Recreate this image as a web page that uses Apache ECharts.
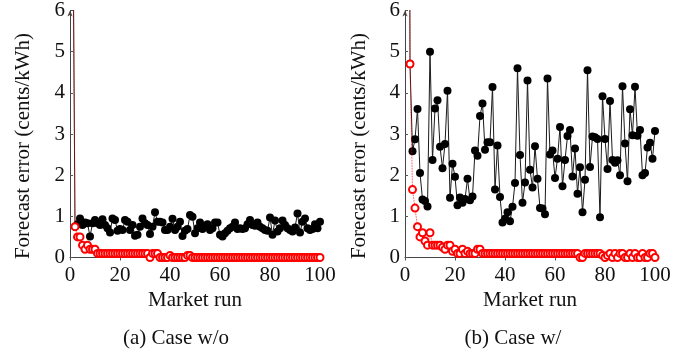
<!DOCTYPE html>
<html>
<head>
<meta charset="utf-8">
<script src="https://cdn.jsdelivr.net/npm/echarts@6/dist/echarts.min.js"></script>
<style>
  html, body { margin: 0; padding: 0; background: #fff; }
  #chart { width: 694px; height: 356px; }
</style>
</head>
<body>
<div id="chart"></div>
<script>
// market runs 1..100 (run 1 is far above the plotted range)
const runs = Array.from({ length: 100 }, (_, i) => i + 1);

// (a) case w/o
const withoutBlack = [
    10, 0.75, 0.81, 0.95, 0.79, 0.85, 0.83, 0.51, 0.83, 0.91,
    0.83, 0.79, 0.93, 0.79, 0.71, 0.61, 0.95, 0.91, 0.65, 0.69,
    0.67, 0.91, 0.87, 0.67, 0.79, 0.53, 0.55, 0.75, 0.95, 0.83,
    0.79, 0.57, 0.75, 1.1, 0.87, 0.87, 0.85, 0.67, 0.67, 0.75,
    0.94, 0.67, 0.75, 0.87, 0.52, 0.65, 0.69, 1.03, 0.99, 0.59,
    0.71, 0.85, 0.69, 0.77, 0.81, 0.67, 0.71, 0.85, 0.85, 0.55,
    0.51, 0.59, 0.65, 0.71, 0.75, 0.85, 0.69, 0.71, 0.69, 0.71,
    0.81, 0.91, 0.79, 0.77, 0.85, 0.75, 0.71, 0.67, 0.65, 0.97,
    0.55, 0.9, 0.63, 0.71, 0.9, 0.79, 0.71, 0.67, 0.63, 0.73,
    1.07, 0.61, 0.87, 0.95, 0.71, 0.67, 0.69, 0.81, 0.71, 0.87
];
const withoutRed = [
    10, 0.75, 0.5, 0.5, 0.3, 0.2, 0.3, 0.2, 0.2, 0.2,
    0.1, 0.1, 0.1, 0.1, 0.1, 0.1, 0.1, 0.1, 0.1, 0.1,
    0.1, 0.1, 0.1, 0.1, 0.1, 0.1, 0.1, 0.1, 0.1, 0.1,
    0.1, 0, 0.1, 0.1, 0.1, 0, 0, 0, 0, 0.05,
    0, 0, 0, 0, 0, 0, 0.05, 0.05, 0, 0,
    0, 0, 0, 0, 0, 0, 0, 0, 0, 0,
    0, 0, 0, 0, 0, 0, 0, 0, 0, 0,
    0, 0, 0, 0, 0, 0, 0, 0, 0, 0,
    0, 0, 0, 0, 0, 0, 0, 0, 0, 0,
    0, 0, 0, 0, 0, 0, 0, 0, 0, 0
];

// (b) case w/
const withBlack = [
    30, 4.7, 2.58, 2.87, 3.61, 2.05, 1.41, 1.37, 1.24, 5.0,
    2.37, 3.62, 3.82, 2.69, 2.17, 2.76, 4.05, 1.45, 2.28, 1.96,
    1.27, 1.46, 1.33, 1.42, 1.91, 1.39, 1.48, 2.6, 2.47, 3.44,
    3.74, 2.62, 2.8, 2.8, 4.14, 1.65, 2.72, 1.47, 0.85, 0.94,
    1.1, 0.88, 1.23, 1.81, 4.6, 2.49, 1.33, 1.82, 4.3, 2.13,
    1.7, 2.7, 1.91, 1.2, 1.19, 1.05, 4.35, 2.5, 2.6, 1.93,
    2.4, 3.17, 1.73, 2.37, 2.95, 3.1, 1.97, 2.65, 1.55, 2.19,
    1.1, 1.89, 4.55, 2.2, 2.94, 2.92, 2.88, 0.98, 3.92, 2.88,
    2.15, 3.8, 2.37, 2.3, 2.36, 2.0, 4.16, 2.77, 1.85, 3.6,
    2.97, 4.15, 2.96, 3.1, 2.0, 2.05, 2.67, 2.79, 2.4, 3.07
];
const withRed = [
    30, 4.7, 1.65, 1.2, 0.75, 0.5, 0.6, 0.4, 0.3, 0.6,
    0.3, 0.3, 0.3, 0.3, 0.25, 0.2, 0.3, 0.3, 0.15, 0.2,
    0.1, 0.1, 0.2, 0.1, 0.15, 0.1, 0.1, 0.1, 0.2, 0.2,
    0.1, 0.1, 0.1, 0.1, 0.1, 0.1, 0.1, 0.1, 0.1, 0.1,
    0.1, 0.1, 0.1, 0.1, 0.1, 0.1, 0.1, 0.1, 0.1, 0.1,
    0.1, 0.1, 0.1, 0.1, 0.1, 0.1, 0.1, 0.1, 0.1, 0.1,
    0.1, 0.1, 0.1, 0.1, 0.1, 0.1, 0.1, 0.1, 0.1, 0,
    0, 0.1, 0.1, 0.1, 0.1, 0.1, 0.1, 0.1, 0.05, 0,
    0.05, 0.1, 0, 0.1, 0, 0.1, 0.1, 0, 0, 0.1,
    0, 0.1, 0, 0, 0.1, 0, 0, 0.1, 0.1, 0
];

const xTicks = [0, 20, 40, 60, 80, 100];
const yTicks = [0, 1, 2, 3, 4, 5, 6];

const serif = 'Liberation Serif';
const pair = (ys) => runs.map((x, i) => [x, ys[i]]);

const xAxisFor = (gridIndex) => ({
    type: 'value',
    gridIndex,
    min: xTicks[0],
    max: xTicks[xTicks.length - 1],
    interval: 20,
    name: 'Market run',
    nameLocation: 'middle',
    nameGap: 31,
    nameTextStyle: { fontFamily: serif, fontSize: 21, color: '#111' },
    axisLine: { lineStyle: { color: '#444', width: 1 } },
    axisTick: { length: 3, lineStyle: { color: '#555' } },
    axisLabel: { fontFamily: serif, fontSize: 21, color: '#111', margin: 7 },
    splitLine: { show: false },
});

const yAxisFor = (gridIndex) => ({
    type: 'value',
    gridIndex,
    min: yTicks[0],
    max: yTicks[yTicks.length - 1],
    interval: 1,
    axisLine: {
        show: true,
        symbol: ['none', 'arrow'],
        symbolSize: [4, 6],
        lineStyle: { color: '#444', width: 1 },
    },
    axisTick: { show: true, inside: true, length: 3, lineStyle: { color: '#555' } },
    axisLabel: { fontFamily: serif, fontSize: 21, color: '#111', margin: 5 },
    splitLine: { show: false },
});

const blackSeries = (idx, ys) => ({
    type: 'line',
    xAxisIndex: idx,
    yAxisIndex: idx,
    data: pair(ys),
    clip: true,
    symbol: 'circle',
    symbolSize: 8,
    itemStyle: { color: '#000' },
    lineStyle: { color: '#1a1a1a', width: 1 },
    z: 2,
    animation: false,
});

const redSeries = (idx, ys) => ({
    type: 'line',
    xAxisIndex: idx,
    yAxisIndex: idx,
    data: pair(ys),
    clip: true,
    symbol: 'emptyCircle',
    symbolSize: 7,
    itemStyle: { color: '#f00', borderColor: '#f00', borderWidth: 0.9 },
    lineStyle: { color: '#f00', width: 0.8, type: 'dotted' },
    z: 3,
    animation: false,
});

const textFont = '21px "Liberation Serif"';
const yTitle = 'Forecast error (cents/kWh)';

const chart = echarts.init(document.getElementById('chart'), null, { renderer: 'canvas' });
chart.setOption({
    backgroundColor: '#fff',
    animation: false,
    grid: [
        { left: 70, top: 9.5, width: 250, height: 248 },
        { left: 405, top: 9.5, width: 250, height: 248 },
    ],
    xAxis: [xAxisFor(0), xAxisFor(1)],
    yAxis: [yAxisFor(0), yAxisFor(1)],
    series: [
        blackSeries(0, withoutBlack),
        redSeries(0, withoutRed),
        blackSeries(1, withBlack),
        redSeries(1, withRed),
    ],
    graphic: [
        {
            type: 'text', x: 23, y: 146, rotation: Math.PI / 2,
            style: { text: yTitle, font: textFont, fill: '#111', align: 'center', verticalAlign: 'middle' },
        },
        {
            type: 'text', x: 359, y: 146, rotation: Math.PI / 2,
            style: { text: yTitle, font: textFont, fill: '#111', align: 'center', verticalAlign: 'middle' },
        },
        {
            type: 'text', x: 176, y: 338,
            style: { text: '(a) Case w/o', font: textFont, fill: '#111', align: 'center', verticalAlign: 'middle' },
        },
        {
            type: 'text', x: 513, y: 338,
            style: { text: '(b) Case w/', font: textFont, fill: '#111', align: 'center', verticalAlign: 'middle' },
        },
    ],
});
</script>
</body>
</html>
